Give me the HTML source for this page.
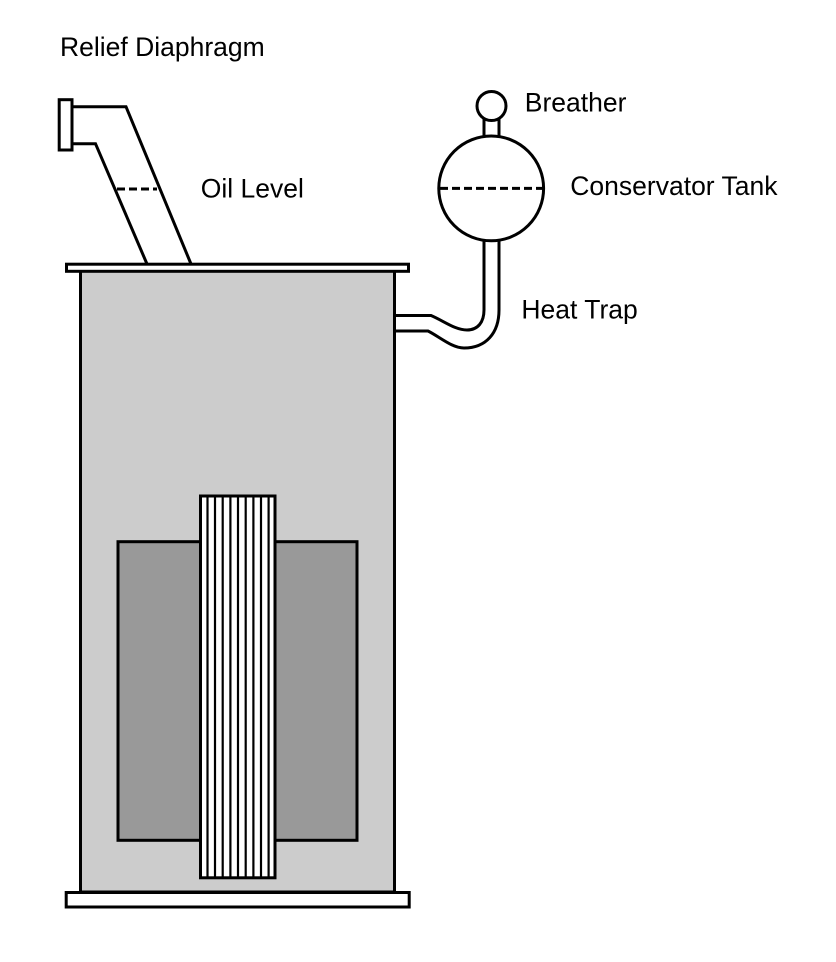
<!DOCTYPE html>
<html>
<head>
<meta charset="utf-8">
<style>
  html, body { margin: 0; padding: 0; background: #ffffff; }
  svg { display: block; }
  text { font-family: "Liberation Sans", Arial, sans-serif; font-size: 26.5px; fill: #000; }
</style>
</head>
<body>
<svg width="836" height="962" viewBox="0 0 836 962" xmlns="http://www.w3.org/2000/svg">
  <rect x="0" y="0" width="836" height="962" fill="#ffffff"/>

  <!-- Tank body -->
  <rect x="80.5" y="268" width="314" height="624" fill="#cccccc" stroke="#000" stroke-width="3"/>

  <!-- Windings -->
  <rect x="118" y="541.7" width="239" height="298.6" fill="#999999" stroke="#000" stroke-width="3"/>

  <!-- Core -->
  <rect x="200.5" y="496" width="74.5" height="381.8" fill="#ffffff" stroke="#000" stroke-width="3"/>
  <g stroke="#000" stroke-width="2.2">
    <line x1="207.5" y1="496" x2="207.5" y2="878"/>
    <line x1="215" y1="496" x2="215" y2="878"/>
    <line x1="222.7" y1="496" x2="222.7" y2="878"/>
    <line x1="230.4" y1="496" x2="230.4" y2="878"/>
    <line x1="238" y1="496" x2="238" y2="878"/>
    <line x1="245.7" y1="496" x2="245.7" y2="878"/>
    <line x1="253.4" y1="496" x2="253.4" y2="878"/>
    <line x1="261" y1="496" x2="261" y2="878"/>
    <line x1="268.6" y1="496" x2="268.6" y2="878"/>
  </g>

  <!-- Top plate -->
  <rect x="66.5" y="264.2" width="342" height="7.1" fill="#ffffff" stroke="#000" stroke-width="3"/>
  <!-- Bottom plate -->
  <rect x="66.2" y="892.5" width="343" height="14.5" fill="#ffffff" stroke="#000" stroke-width="3"/>

  <!-- Relief pipe -->
  <g fill="none" stroke="#000" stroke-width="3">
    <polyline points="72,106.7 126,106.7 191,264"/>
    <polyline points="72,143.7 95.5,143.7 147,264"/>
    <line x1="117" y1="189" x2="157" y2="189" stroke-dasharray="8,4"/>
  </g>
  <rect x="59.2" y="99.7" width="12.8" height="50.3" fill="#ffffff" stroke="#000" stroke-width="3"/>

  <!-- Heat trap pipe -->
  <g fill="none" stroke="#000" stroke-width="3">
    <path d="M395,315.5 L431,315.5 C444,321 455,330 467,330 C478,330 484,322 484,310 L484,241"/>
    <path d="M395,331 L428,331 C440,337 452,348 464,348 C486,348 499,333 499,310 L499,241"/>
  </g>

  <!-- Breather neck -->
  <g stroke="#000" stroke-width="3">
    <line x1="484" y1="119" x2="484" y2="138"/>
    <line x1="499" y1="119" x2="499" y2="138"/>
  </g>
  <!-- Breather -->
  <circle cx="491.5" cy="106" r="14.5" fill="#ffffff" stroke="#000" stroke-width="3"/>

  <!-- Conservator tank -->
  <circle cx="491.2" cy="188.4" r="52.4" fill="#ffffff" stroke="#000" stroke-width="3"/>
  <line x1="440" y1="188.4" x2="543" y2="188.4" stroke="#000" stroke-width="3" stroke-dasharray="8,4"/>

  <!-- Labels -->
  <text x="60" y="56">Relief Diaphragm</text>
  <text x="200.8" y="197.3">Oil Level</text>
  <text x="524.8" y="111.7">Breather</text>
  <text x="570.3" y="195">Conservator Tank</text>
  <text x="521.4" y="318.7">Heat Trap</text>
</svg>
</body>
</html>
